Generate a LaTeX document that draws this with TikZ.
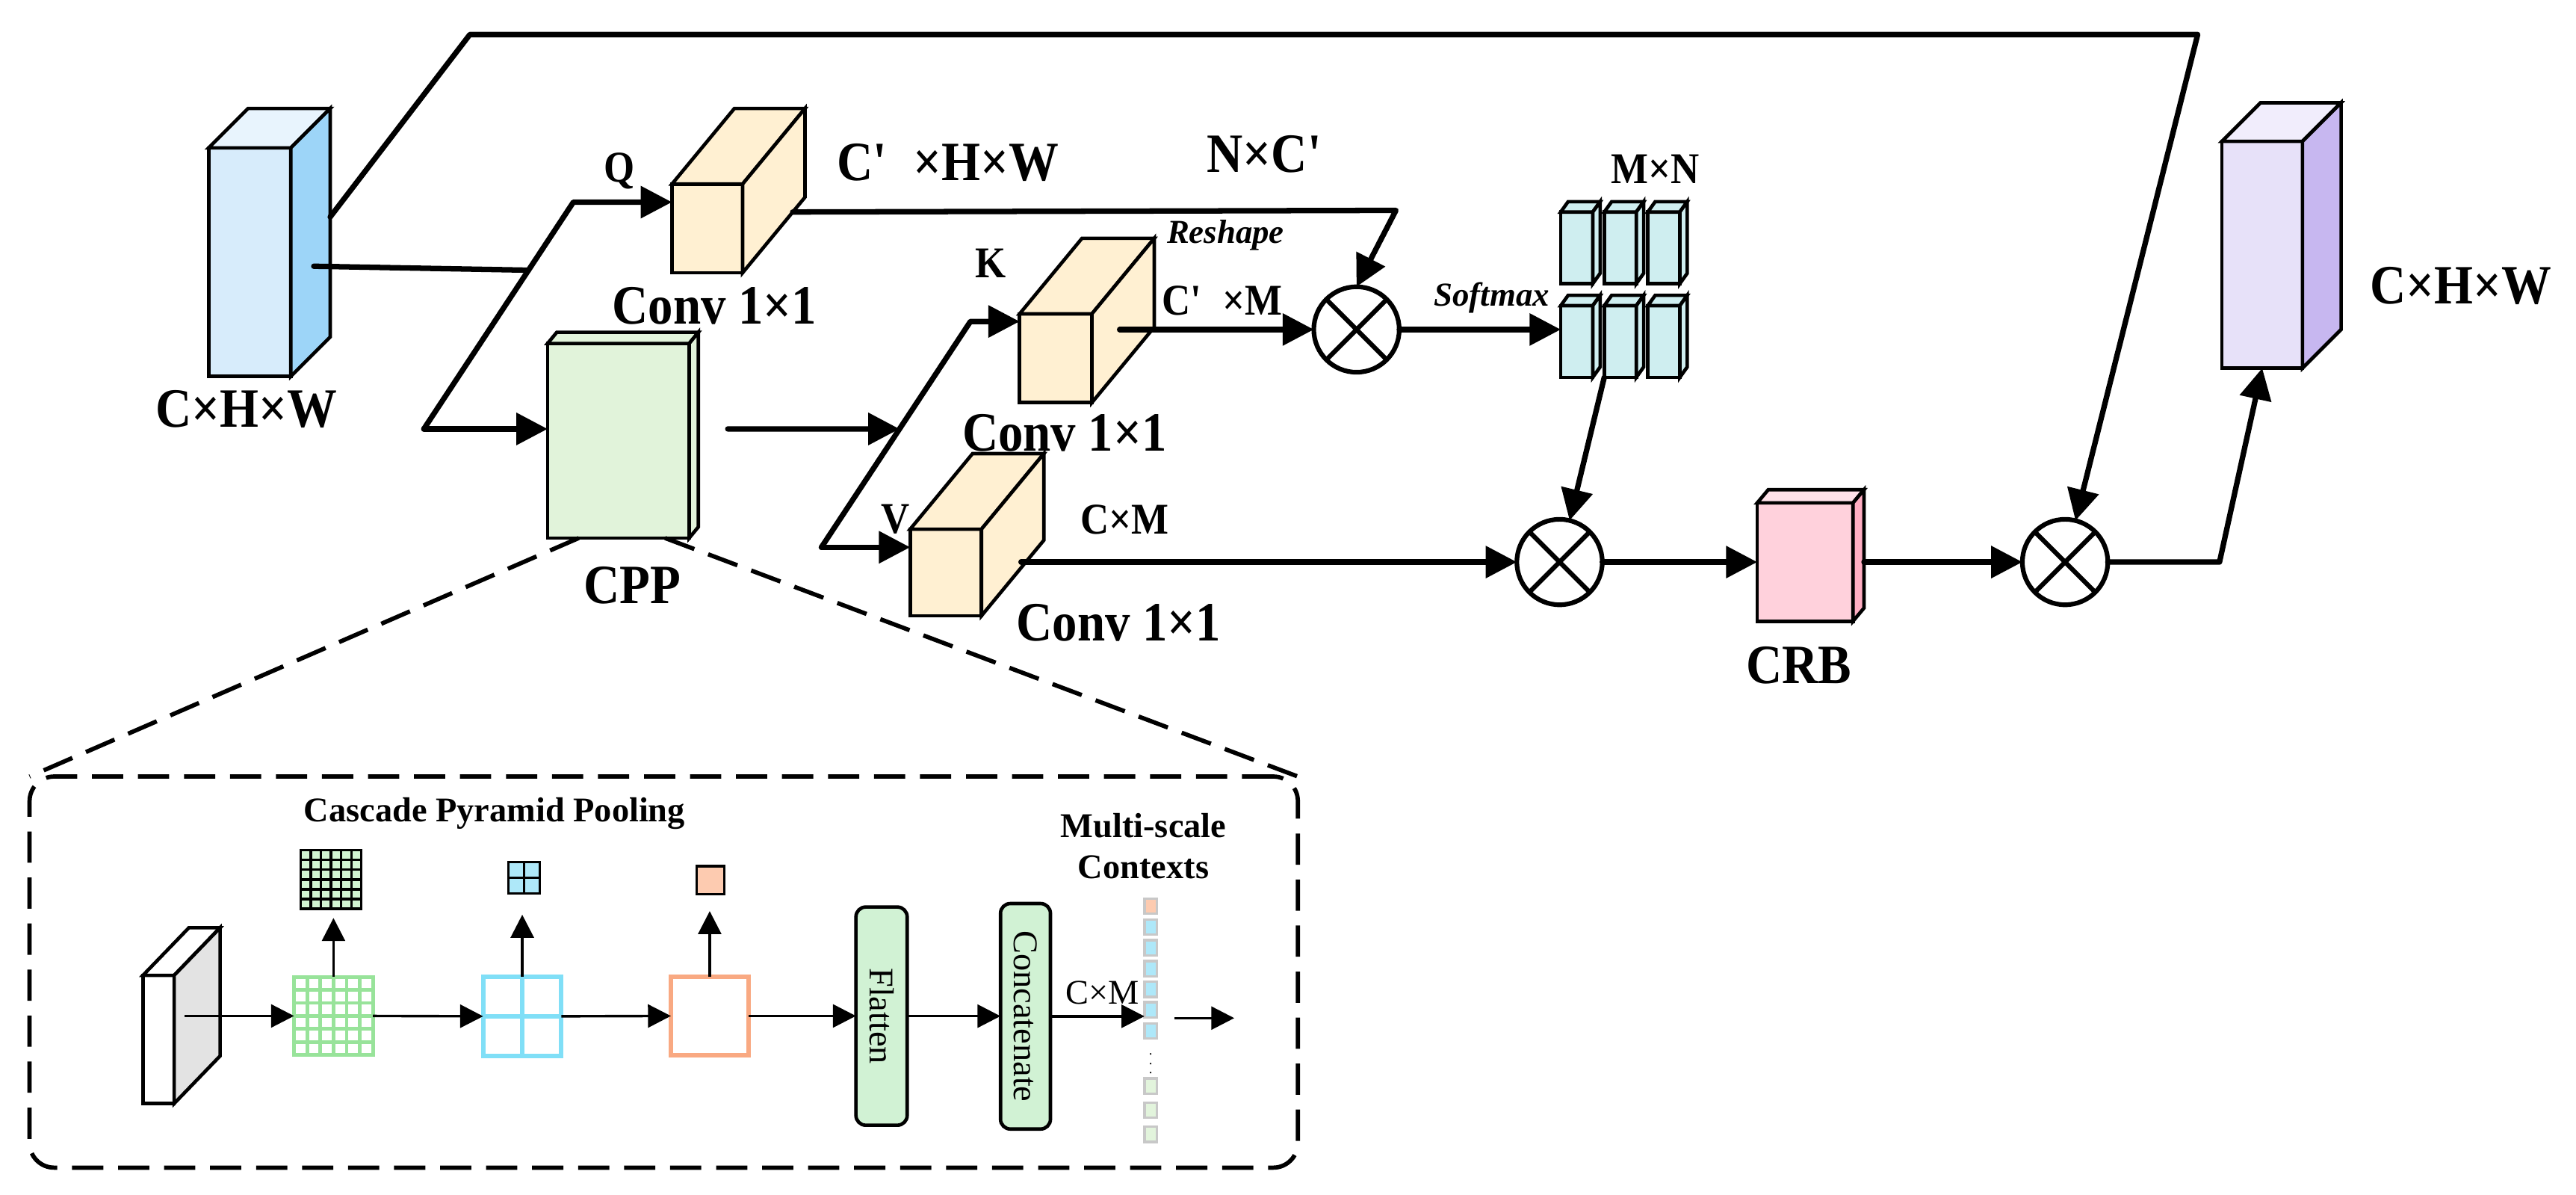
\documentclass[tikz,border=0pt]{standalone}
\usepackage{fontspec}
\setmainfont{Liberation Serif}
\newfontfamily\lblfont{Liberation Serif}[FakeStretch=0.9]
\usepackage{tikz}
\usetikzlibrary{arrows.meta,calc}
\definecolor{inblue}{HTML}{D7ECFB}
\definecolor{inbluetop}{HTML}{E8F4FD}
\definecolor{inblueside}{HTML}{9DD5F8}
\definecolor{convfill}{HTML}{FFF0D2}
\definecolor{cppfill}{HTML}{E1F3DA}
\definecolor{outfill}{HTML}{E7E1F9}
\definecolor{outtop}{HTML}{F1EDFC}
\definecolor{outside}{HTML}{C7B7F0}
\definecolor{crbfill}{HTML}{FFD1DC}
\definecolor{crbtop}{HTML}{FFE1E9}
\definecolor{crbside}{HTML}{FFAEC3}
\definecolor{attfill}{HTML}{CFEEF0}
\definecolor{slabside}{HTML}{E3E3E3}
\definecolor{gline}{HTML}{98E39A}
\definecolor{gcell}{HTML}{D2F4D2}
\definecolor{bline}{HTML}{80DFF7}
\definecolor{bcell}{HTML}{AEE8F9}
\definecolor{oline}{HTML}{F9A982}
\definecolor{ocell}{HTML}{FDCBB0}
\definecolor{pillfill}{HTML}{D1F2D4}
\definecolor{vgreen}{HTML}{E2F4DC}
\definecolor{cellgray}{HTML}{C8C8C8}
\tikzset{
  feat/.style={draw=black,line width=1.5pt,inner sep=0pt,outer sep=0pt},
  mul/.style={circle,draw=black,line width=2pt,minimum size=13mm,inner sep=0pt,outer sep=0pt},
  mulx/.style={line width=2pt},
  wire/.style={line width=2.35pt,line cap=round,line join=round},
  arr/.style={-{Triangle[length=4.75mm,width=4.75mm]},line width=2.35pt,line cap=round,line join=round},
  parr/.style={-{Triangle[length=3.5mm,width=3.5mm]},line width=1.1pt},
  dashln/.style={line width=0.65mm,dash pattern=on 4.75mm off 2.25mm},
  panel/.style={draw=black,dashln,rounded corners=3.75mm,inner sep=0pt,outer sep=0pt},
  pill/.style={draw=black,fill=pillfill,line width=1.5pt,rounded corners=1.5mm,inner sep=0pt,outer sep=0pt},
  vcell/.style={draw=cellgray,line width=1.1pt,minimum width=1.9mm,minimum height=2.3mm,inner sep=0pt,outer sep=0pt},
  mainlbl/.style={font={\lblfont\bfseries\fontsize{24}{28}\selectfont},inner sep=0pt},
  midlbl/.style={font={\lblfont\bfseries\fontsize{19}{22}\selectfont},inner sep=0pt},
  smalllbl/.style={font={\bfseries\itshape\fontsize{14.5}{17}\selectfont},inner sep=0pt},
  ptitle/.style={font={\bfseries\fontsize{15}{17.8}\selectfont},inner sep=0pt},
  plbl/.style={font={\fontsize{15}{17}\selectfont},inner sep=0pt},
}
% front face as a node, top and side faces drawn from its anchors
\newcommand{\cuboid}[8]{%
  \node[feat,fill=#6,minimum width=#3*0.25mm,minimum height=#4*0.25mm,anchor=north west] (#1) at (#2) {};
  \draw[feat,fill=#7] (#1.north west) -- ++(#5) -- ++(#3,0) -- (#1.north east) -- cycle;
  \draw[feat,fill=#8] (#1.north east) -- ++(#5) -- ++(0,#4) -- (#1.south east) -- cycle;
}

\begin{document}
\begin{tikzpicture}[x=0.25mm,y=-0.25mm]
  \useasboundingbox (0,0) rectangle (1568,727);

  % feature maps
  \cuboid{inp}{127,90}{50}{139}{24,-24}{inblue}{inbluetop}{inblueside}
  \cuboid{q}{409,112}{43}{54}{38,-46}{convfill}{convfill}{convfill}
  \cuboid{k}{620.6,191}{44}{54}{38,-46}{convfill}{convfill}{convfill}
  \cuboid{v}{554,322}{43.4}{52.7}{38,-46}{convfill}{convfill}{convfill}
  \cuboid{cpp}{333.3,209}{86.2}{118.4}{5.6,-6.8}{cppfill}{cppfill}{cppfill}
  \cuboid{crb}{1069.6,306}{58.3}{72}{6.7,-8}{crbfill}{crbtop}{crbside}
  \cuboid{outp}{1352.5,86}{49}{138}{23.5,-23.5}{outfill}{outtop}{outside}
  \foreach \r/\yy in {1/129,2/186} {
    \foreach \c/\xx in {1/950,2/976.5,3/1003} {
      \cuboid{s\r\c}{\xx,\yy}{19.5}{43.6}{4.5,-6.3}{attfill}{attfill}{attfill}
    }
  }

  % multiplications
  \node[mul] (m1) at (825.7,200.5) {};
  \node[mul] (m2) at (949.3,342) {};
  \node[mul] (m3) at (1257,342) {};
  \foreach \m in {m1,m2,m3} {
    \draw[mulx] (\m.north west) -- (\m.south east) (\m.north east) -- (\m.south west);
  }

  % bend points
  \coordinate (intop) at (201,132);
  \coordinate (inmid) at (191,162);
  \coordinate (jb) at (258,261);
  \coordinate (jq) at (349,123);
  \coordinate (jv) at (500,333);
  \coordinate (jk) at (590.7,195.6);
  \coordinate (qout) at (482.5,129);
  \coordinate (kout) at (681.5,200.5);
  \coordinate (vout) at (621.5,342);
  \coordinate (cppout) at (443,261);
  \coordinate (crbout) at (1134.6,342);
  \coordinate (tl) at (286,21);
  \coordinate (tr) at (1337.7,21);
  \coordinate (rs) at (849.7,128);
  \coordinate (oc) at (1351,342);

  \draw[wire] (inmid) -- ($(jb)!0.7!(jq)$);
  \draw[arr] (jb) -- (jq) -- (jq -| q.west);
  \draw[arr] (jb) -- (jb -| cpp.west);
  \draw[arr] (intop) -- (tl) -- (tr) -- (m3);
  \draw[arr] (qout) -- (rs) -- (m1.north);
  \draw[arr] (cppout) -- ($(jv)!0.524!(jk)$);
  \draw[arr] (jv) -- (jk) -- (jk -| k.west);
  \draw[arr] (jv) -- (jv -| v.west);
  \draw[arr] (kout) -- (m1);
  \draw[arr] (m1) -- (m1 -| s21.west);
  \draw[arr] (s22.south west) -- (m2);
  \draw[arr] (vout) -- (m2);
  \draw[arr] (m2) -- (m2 -| crb.west);
  \draw[arr] (crbout) -- (m3);
  \draw[arr] (m3) -- (oc) -- (outp.south);

  % labels
  \node[mainlbl] (linp) at (150,249) {C×H×W};
  \node[midlbl] (lq) at (377,104) {Q};
  \node[mainlbl] (lconvq) at (435,186) {Conv 1×1};
  \node[mainlbl] (lcpp) at (385,356) {CPP};
  \node[mainlbl] (lqsize) at (577,99) {C\textquotesingle\ \ ×H×W};
  \node[mainlbl] (lnc) at (770,94) {N×C\textquotesingle};
  \node[smalllbl] (lreshape) at (746,143) {Reshape};
  \node[midlbl] (lk) at (603,160) {K};
  \node[midlbl] (lkm) at (744,183) {C\textquotesingle\ \ ×M};
  \node[smalllbl] (lsoftmax) at (908,181) {Softmax};
  \node[midlbl] (lmn) at (1007.6,103) {M×N};
  \node[mainlbl] (lconvk) at (648,263.5) {Conv 1×1};
  \node[midlbl] (lv) at (545,316) {V};
  \node[midlbl] (lcm) at (684.5,316) {C×M};
  \node[mainlbl] (lconvv) at (681,379) {Conv 1×1};
  \node[mainlbl] (lcrb) at (1095,405) {CRB};
  \node[mainlbl] (lout) at (1498,174) {C×H×W};

  % CPP detail
  \node[panel,minimum width=193mm,minimum height=59.5mm] (pbox) at (404,591.5) {};
  \draw[dashln] ($(cpp.south west)!0.22!(cpp.south east)$) -- (pbox.north west);
  \draw[dashln] ($(cpp.south west)!0.83!(cpp.south east)$) -- (pbox.north east);
  \node[ptitle] (ltitle) at (301,495) {Cascade Pyramid Pooling};
  \node[ptitle,align=center] (lctx) at (696,515) {Multi-scale\\Contexts};

  \cuboid{slab}{87,593.5}{19}{78}{28,-29}{white}{white}{slabside}

  \node[draw=gline,line width=1.6pt,minimum width=12mm,minimum height=11.9mm,inner sep=0pt,outer sep=0pt] (g1) at (203,618.2) {};
  \foreach \i in {1,...,5} {
    \draw[gline,line width=1.6pt] ($(g1.north west)!\i/6!(g1.north east)$) -- ($(g1.south west)!\i/6!(g1.south east)$);
    \draw[gline,line width=1.6pt] ($(g1.north west)!\i/6!(g1.south west)$) -- ($(g1.north east)!\i/6!(g1.south east)$);
  }
  \node[draw=bline,line width=2pt,minimum width=11.9mm,minimum height=12mm,inner sep=0pt,outer sep=0pt] (b1) at (317.9,618.4) {};
  \draw[bline,line width=2pt] (b1.north) -- (b1.south) (b1.west) -- (b1.east);
  \node[draw=oline,line width=1.8pt,minimum width=11.8mm,minimum height=11.9mm,inner sep=0pt,outer sep=0pt] (o1) at (432,618.2) {};

  \node[draw=black,fill=gcell,line width=1.05pt,minimum width=9.25mm,minimum height=8.9mm,inner sep=0pt,outer sep=0pt] (g2) at (201.5,535.2) {};
  \foreach \i in {1,...,5} {
    \draw[line width=1.05pt] ($(g2.north west)!\i/6!(g2.north east)$) -- ($(g2.south west)!\i/6!(g2.south east)$);
    \draw[line width=1.05pt] ($(g2.north west)!\i/6!(g2.south west)$) -- ($(g2.north east)!\i/6!(g2.south east)$);
  }
  \node[draw=black,fill=bcell,line width=1.05pt,minimum size=4.8mm,inner sep=0pt,outer sep=0pt] (b2) at (319,534.2) {};
  \draw[line width=1.05pt] (b2.north) -- (b2.south) (b2.west) -- (b2.east);
  \node[draw=black,fill=ocell,line width=1.05pt,minimum size=4.25mm,inner sep=0pt,outer sep=0pt] (o2) at (432.5,535.5) {};

  \node[pill,minimum width=7.8mm,minimum height=33.2mm] (flat) at (536.6,618.3) {};
  \node[plbl,rotate=-90] (lflat) at (flat) {Flatten};
  \node[pill,minimum width=7.6mm,minimum height=34.3mm] (concat) at (624.2,618.4) {};
  \node[plbl,rotate=-90] (lconcat) at (concat) {Concatenate};

  \foreach \k/\yy/\cc in {1/551.4/ocell,2/564.1/bcell,3/576.7/bcell,4/589.4/bcell,5/602/bcell,6/614.5/bcell,7/627.3/bcell,8/660.8/vgreen,9/675.5/vgreen,10/690.2/vgreen} {
    \node[vcell,fill=\cc] (v\k) at (700.4,\yy) {};
  }
  \node[font=\fontsize{6}{6}\selectfont,inner sep=0pt] (vdots) at (700.4,643) {$\vdots$};
  \node[plbl] (lpcm) at (671,604) {C×M};

  \coordinate (slabin) at (112.5,618.2);
  \coordinate (vtail) at (715,619.5);
  \coordinate (vhead) at (751.3,619.5);
  \draw[parr] (slabin) -- (g1.west);
  \draw[parr] (g1.east) -- (b1.west);
  \draw[parr] (b1.east) -- (o1.west);
  \draw[parr] (o1.east) -- (o1.east -| flat.west);
  \draw[parr] (flat.east) -- (flat.east -| concat.west);
  \draw[parr] (concat.east) -- (concat.east -| v1.west);
  \draw[parr] (vtail) -- (vhead);
  \draw[parr] (g1.north) -- ([yshift=-1.4mm]g1.north |- g2.south);
  \draw[parr] (b1.north) -- ([yshift=-3.2mm]b1.north |- b2.south);
  \draw[parr] (o1.north) -- ([yshift=-2.6mm]o1.north |- o2.south);
\end{tikzpicture}
\end{document}
